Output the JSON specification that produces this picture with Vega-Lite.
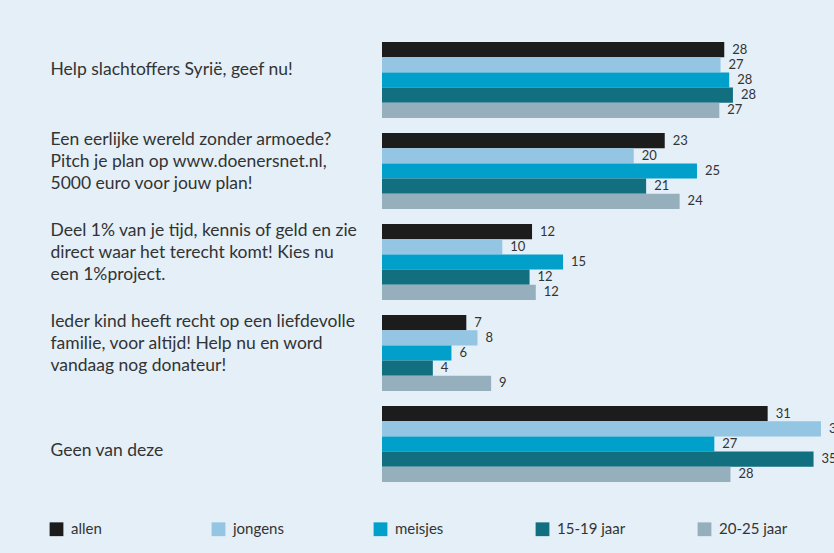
{
  "$schema": "https://vega.github.io/schema/vega-lite/v6.json",
  "autosize": {"type": "none"},
  "padding": {"left": 382, "top": 34.5, "right": 0, "bottom": 63.5},
  "width": 452,
  "height": 455,
  "background": "#e4eff8",
  "config": {
    "view": {"stroke": null},
    "font": "Lato",
    "text": {"font": "Lato"}
  },
  "data": {
    "values": [
      {"vraag": "Help slachtoffers Syrië, geef nu!", "groep": "allen", "pct": 27.6},
      {"vraag": "Help slachtoffers Syrië, geef nu!", "groep": "jongens", "pct": 27.3},
      {"vraag": "Help slachtoffers Syrië, geef nu!", "groep": "meisjes", "pct": 28.0},
      {"vraag": "Help slachtoffers Syrië, geef nu!", "groep": "15-19 jaar", "pct": 28.3},
      {"vraag": "Help slachtoffers Syrië, geef nu!", "groep": "20-25 jaar", "pct": 27.2},
      {"vraag": "Een eerlijke wereld zonder armoede?\nPitch je plan op www.doenersnet.nl,\n5000 euro voor jouw plan!", "groep": "allen", "pct": 22.8},
      {"vraag": "Een eerlijke wereld zonder armoede?\nPitch je plan op www.doenersnet.nl,\n5000 euro voor jouw plan!", "groep": "jongens", "pct": 20.3},
      {"vraag": "Een eerlijke wereld zonder armoede?\nPitch je plan op www.doenersnet.nl,\n5000 euro voor jouw plan!", "groep": "meisjes", "pct": 25.4},
      {"vraag": "Een eerlijke wereld zonder armoede?\nPitch je plan op www.doenersnet.nl,\n5000 euro voor jouw plan!", "groep": "15-19 jaar", "pct": 21.3},
      {"vraag": "Een eerlijke wereld zonder armoede?\nPitch je plan op www.doenersnet.nl,\n5000 euro voor jouw plan!", "groep": "20-25 jaar", "pct": 24.0},
      {"vraag": "Deel 1% van je tijd, kennis of geld en zie\ndirect waar het terecht komt! Kies nu\neen 1%project.", "groep": "allen", "pct": 12.1},
      {"vraag": "Deel 1% van je tijd, kennis of geld en zie\ndirect waar het terecht komt! Kies nu\neen 1%project.", "groep": "jongens", "pct": 9.7},
      {"vraag": "Deel 1% van je tijd, kennis of geld en zie\ndirect waar het terecht komt! Kies nu\neen 1%project.", "groep": "meisjes", "pct": 14.6},
      {"vraag": "Deel 1% van je tijd, kennis of geld en zie\ndirect waar het terecht komt! Kies nu\neen 1%project.", "groep": "15-19 jaar", "pct": 11.9},
      {"vraag": "Deel 1% van je tijd, kennis of geld en zie\ndirect waar het terecht komt! Kies nu\neen 1%project.", "groep": "20-25 jaar", "pct": 12.4},
      {"vraag": "Ieder kind heeft recht op een liefdevolle\nfamilie, voor altijd! Help nu en word\nvandaag nog donateur!", "groep": "allen", "pct": 6.8},
      {"vraag": "Ieder kind heeft recht op een liefdevolle\nfamilie, voor altijd! Help nu en word\nvandaag nog donateur!", "groep": "jongens", "pct": 7.7},
      {"vraag": "Ieder kind heeft recht op een liefdevolle\nfamilie, voor altijd! Help nu en word\nvandaag nog donateur!", "groep": "meisjes", "pct": 5.6},
      {"vraag": "Ieder kind heeft recht op een liefdevolle\nfamilie, voor altijd! Help nu en word\nvandaag nog donateur!", "groep": "15-19 jaar", "pct": 4.1},
      {"vraag": "Ieder kind heeft recht op een liefdevolle\nfamilie, voor altijd! Help nu en word\nvandaag nog donateur!", "groep": "20-25 jaar", "pct": 8.8},
      {"vraag": "Geen van deze", "groep": "allen", "pct": 31.1},
      {"vraag": "Geen van deze", "groep": "jongens", "pct": 35.4},
      {"vraag": "Geen van deze", "groep": "meisjes", "pct": 26.8},
      {"vraag": "Geen van deze", "groep": "15-19 jaar", "pct": 34.8},
      {"vraag": "Geen van deze", "groep": "20-25 jaar", "pct": 28.1}
    ]
  },
  "encoding": {
    "y": {
      "field": "vraag", "type": "nominal", "sort": null,
      "scale": {"paddingInner": 0.165, "paddingOuter": 0.0825},
      "axis": {
        "title": null, "domain": false, "ticks": false, "grid": false,
        "labelAlign": "left", "labelPadding": 332, "labelBaseline": "middle",
        "labelOffset": {"condition": [{"test": "indexof(datum.value, 'Geen') == 0", "value": 7}, {"test": "indexof(datum.value, '\\n') < 0", "value": -10}], "value": -31},
        "labelExpr": "split(datum.value, '\\n')",
        "labelFont": "Lato", "labelFontSize": 17.5, "labelColor": "#333333",
        "labelLineHeight": 22, "labelLimit": 0
      }
    },
    "yOffset": {"field": "groep", "type": "nominal", "sort": ["allen", "jongens", "meisjes", "15-19 jaar", "20-25 jaar"], "scale": {"paddingInner": 0, "paddingOuter": 0}},
    "x": {
      "field": "pct", "type": "quantitative",
      "scale": {"domain": [0, 36.45], "nice": false, "zero": true},
      "axis": null
    }
  },
  "layer": [
    {
      "mark": {"type": "bar", "cornerRadius": 0},
      "encoding": {
        "color": {
          "field": "groep", "type": "nominal",
          "sort": ["allen", "jongens", "meisjes", "15-19 jaar", "20-25 jaar"],
          "scale": {"domain": ["allen", "jongens", "meisjes", "15-19 jaar", "20-25 jaar"], "range": ["#1c1c1c", "#94c5e2", "#00a0cb", "#126f80", "#96afbd"]},
          "legend": {
            "title": null, "orient": "none", "direction": "horizontal", "columns": 5,
            "legendX": -333, "legendY": 487,
            "gridAlign": "all", "columnPadding": 71,
            "symbolType": "square", "symbolSize": 190, "symbolStrokeWidth": 0,
            "symbolOpacity": 1,
            "labelFont": "Lato", "labelFontSize": 15, "labelColor": "#333333", "labelOffset": 7
          }
        }
      }
    },
    {
      "mark": {"type": "text", "align": "left", "baseline": "middle", "dx": 8, "fontSize": 13, "color": "#333333", "font": "Lato"},
      "encoding": {
        "text": {"field": "pct", "type": "quantitative", "format": ".0f"}
      }
    }
  ]
}
